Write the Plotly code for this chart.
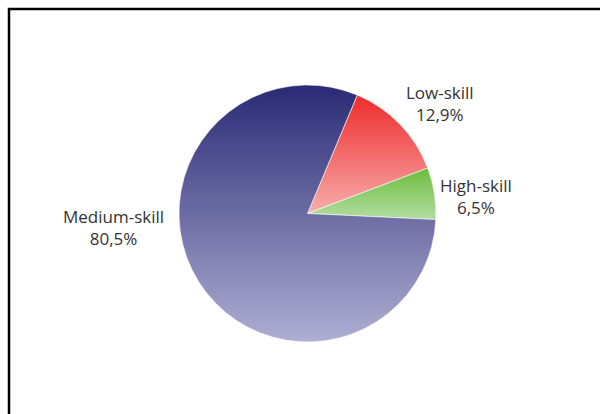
import plotly.graph_objects as go

labels = ["Low-skill", "High-skill", "Medium-skill"]
values = [12.9, 6.5, 80.5]
value_texts = ["12,9%", "6,5%", "80,5%"]
top_colors = ["#EE2B2B", "#6BBC3A", "#2A2A75"]
bottom_colors = ["#F7ACAC", "#B4DDA4", "#AEAED3"]
mid_colors = ["#F26B6B", "#90CC70", "#6C6CA3"]

W, H = 600, 414
cx, cy, r = 307.5, 213.5, 128.5  # pixel centre / radius

fig = go.Figure()
fig.add_trace(go.Pie(
    labels=labels,
    values=values,
    sort=False,
    direction="clockwise",
    rotation=22.8,
    textinfo="none",
    hoverinfo="label+percent",
    marker=dict(colors=mid_colors, line=dict(color="white", width=0.6)),
    domain=dict(x=[(cx - r) / W, (cx + r) / W],
                y=[(H - cy - r) / H, (H - cy + r) / H]),
    showlegend=False,
))

label_pos = [(440, 103), (476, 196), (113, 227)]
for lab, vt, (px, py) in zip(labels, value_texts, label_pos):
    fig.add_annotation(
        x=px / W, y=1 - py / H, xref="paper", yref="paper",
        text=f"{lab}<br>{vt}", showarrow=False,
        font=dict(family="Open Sans, Liberation Sans, sans-serif", size=17, color="#333333"),
        align="center", xanchor="center", yanchor="middle",
    )

fig.add_shape(type="rect", xref="paper", yref="paper",
              x0=9 / W, x1=1.02, y0=-0.02, y1=1 - 9 / H,
              line=dict(color="black", width=2.5), fillcolor="rgba(0,0,0,0)")

fig.update_layout(
    width=W, height=H,
    margin=dict(l=0, r=0, t=0, b=0),
    paper_bgcolor="white", plot_bgcolor="white",
)

stops = ",".join(f"['{t}','{b}']" for t, b in zip(top_colors, bottom_colors))
post_script = """
(function(){
  document.body.style.margin = '0';
  document.body.style.padding = '0';
  var gd = document.querySelector('.plotly-graph-div');
  function paint(){
    var svg = gd.querySelector('svg.main-svg');
    if(!svg) return;
    var ns = 'http://www.w3.org/2000/svg';
    var defs = svg.querySelector('defs');
    if(!defs){ defs = document.createElementNS(ns,'defs'); svg.insertBefore(defs, svg.firstChild); }
    var cols = [%s];
    cols.forEach(function(c, i){
      var id = 'slicegrad' + i;
      if(document.getElementById(id)) return;
      var g = document.createElementNS(ns,'linearGradient');
      g.setAttribute('id', id);
      g.setAttribute('x1','0'); g.setAttribute('y1','0');
      g.setAttribute('x2','0'); g.setAttribute('y2','1');
      var s0 = document.createElementNS(ns,'stop');
      s0.setAttribute('offset','0'); s0.setAttribute('stop-color', c[0]);
      var s1 = document.createElementNS(ns,'stop');
      s1.setAttribute('offset','1'); s1.setAttribute('stop-color', c[1]);
      g.appendChild(s0); g.appendChild(s1); defs.appendChild(g);
    });
    var paths = gd.querySelectorAll('g.slice path.surface');
    paths.forEach(function(p, i){
      var idx = (p.parentNode.__data__ && p.parentNode.__data__.i !== undefined) ? p.parentNode.__data__.i : i;
      p.style.fill = 'url(#slicegrad' + idx + ')';
    });
  }
  paint();
  if(gd.on){ gd.on('plotly_afterplot', paint); }
})();
""" % stops

fig.write_html("out.html", post_script=post_script, config={"displayModeBar": False})
